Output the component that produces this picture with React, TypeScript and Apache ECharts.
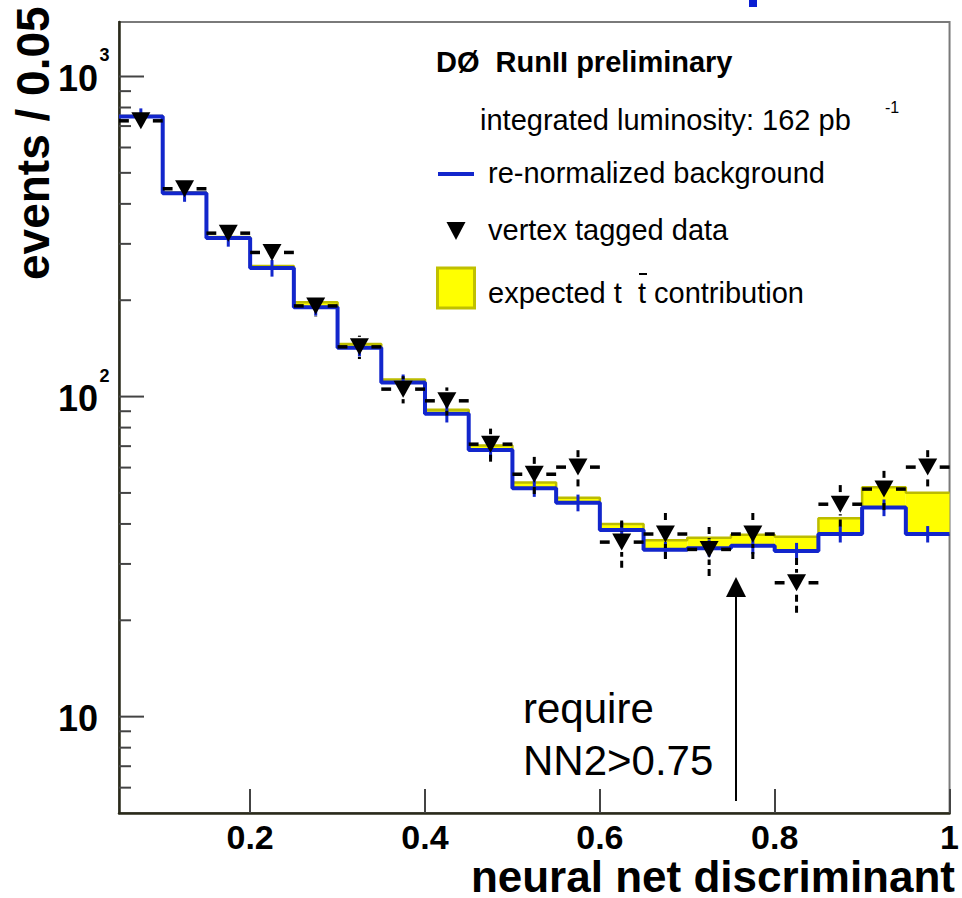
import React, { useEffect, useRef } from 'react';
import * as echarts from 'echarts';

// ---- data ----
const binEdges = [0.05, 0.1, 0.15, 0.2, 0.25, 0.3, 0.35, 0.4, 0.45, 0.5, 0.55, 0.6, 0.65, 0.7, 0.75, 0.8, 0.85, 0.9, 0.95, 1.0];
// re-normalized background
const background = [750, 432, 313, 252, 190, 142, 110.6, 88.3, 68.1, 51.7, 46.6, 38.3, 33.2, 33.6, 34.2, 32.9, 37.2, 45.0, 37.2];
const backgroundErr = [45, 26, 19, 15, 11, 8.5, 6.6, 5.3, 4.1, 3.1, 2.8, 2.3, 2.0, 2.0, 2.0, 2.0, 2.2, 2.7, 2.2];
// background + expected t tbar contribution (top of the yellow band)
const expectedTotal = [752, 434, 315, 256, 197, 146, 113, 90.9, 70.3, 53.9, 48.3, 40.0, 35.6, 36.2, 37.0, 36.5, 41.7, 52.1, 50.1];
// vertex tagged data
const dataCounts = [727, 446, 324, 282, 192, 143, 105.5, 97, 71, 57.2, 60.2, 35.1, 37.2, 33.3, 37.2, 26.2, 46.1, 51.4, 60.2];
const dataErr = [27, 21, 18, 17, 14, 12, 10.3, 9.8, 8.4, 7.6, 7.8, 5.9, 6.1, 5.8, 6.1, 5.1, 6.8, 7.2, 7.8];

const xTickValues = [0.2, 0.4, 0.6, 0.8, 1];
const yMajorTicks = [10, 100, 1000];
const yMajorExponents = ['', '2', '3'];
const yMinorTicks = [6, 7, 8, 9, 20, 30, 40, 50, 60, 70, 80, 90, 200, 300, 400, 500, 600, 700, 800, 900];

const X_MIN = 0.05;
const X_MAX = 1.0;
const Y_MIN = 5;
const Y_MAX = 1480;

const FONT = '"Liberation Sans", Arial, Helvetica, sans-serif';
const BLUE = '#1226cc';
const YELLOW = '#ffff00';
const YELLOW_EDGE = '#bcbc00';

const stepPoints = (vals: number[]) =>
  vals.map((v, i) => [binEdges[i], v]).concat([[binEdges[vals.length], vals[vals.length - 1]]]);

function txt(x: number, y: number, text: string, font: string, align = 'left', extra: any = {}) {
  return {
    type: 'text',
    x,
    y,
    ...extra,
    style: {
      text,
      font,
      fill: '#000',
      align,
      textAlign: align,
      verticalAlign: 'middle',
      textVerticalAlign: 'middle',
    },
  };
}

export default function App() {
  const ref = useRef<HTMLDivElement>(null);

  useEffect(() => {
    if (!ref.current) return;
    const chart = echarts.init(ref.current, undefined, { renderer: 'svg' });

    const fillItems = background.map((b, i) => [binEdges[i], binEdges[i + 1], b, expectedTotal[i]]);
    const bkgErrItems = background.map((b, i) => [(binEdges[i] + binEdges[i + 1]) / 2, b, backgroundErr[i]]);
    const dataItems = dataCounts.map((v, i) => [
      (binEdges[i] + binEdges[i + 1]) / 2,
      v,
      dataErr[i],
      binEdges[i],
      binEdges[i + 1],
    ]);
    const yTickItems: any[] = [
      ...yMajorTicks.map((v, i) => ({ v, major: true, exp: yMajorExponents[i] })),
      ...yMinorTicks.map((v) => ({ v, major: false, exp: '' })),
    ];

    const option: any = {
      animation: false,
      grid: {
        left: 119,
        right: 11,
        top: 22,
        bottom: 85,
        show: true,
        borderColor: '#7a7a7a',
        borderWidth: 2,
        backgroundColor: 'transparent',
      },
      xAxis: {
        type: 'value',
        min: X_MIN,
        max: X_MAX,
        splitLine: { show: false },
        axisLine: { show: true, onZero: false, lineStyle: { color: '#2a2a1a', width: 2.5 } },
        axisTick: {
          show: true,
          inside: true,
          length: 24,
          customValues: xTickValues,
          lineStyle: { color: '#444', width: 2 },
        },
        axisLabel: {
          show: true,
          customValues: xTickValues,
          showMaxLabel: true,
          showMinLabel: true,
          margin: 7,
          color: '#000',
          fontFamily: FONT,
          fontWeight: 'bold',
          fontSize: 34,
          formatter: (v: number) => (v === 1 ? '1' : String(Math.round(v * 10) / 10)),
        },
      },
      yAxis: {
        type: 'log',
        logBase: 10,
        min: Y_MIN,
        max: Y_MAX,
        splitLine: { show: false },
        axisLine: { show: true, lineStyle: { color: '#2a2a1a', width: 2.5 } },
        axisTick: { show: false },
        axisLabel: { show: false },
        minorTick: { show: false },
      },
      series: [
        {
          type: 'custom',
          name: 'expected t tbar contribution',
          z: 2,
          clip: true,
          data: fillItems,
          renderItem: (params: any, api: any) => {
            const p0 = api.coord([api.value(0), api.value(3)]);
            const p1 = api.coord([api.value(1), api.value(2)]);
            return {
              type: 'rect',
              shape: { x: p0[0], y: p0[1], width: p1[0] - p0[0], height: p1[1] - p0[1] },
              style: { fill: YELLOW },
            };
          },
        },
        {
          type: 'line',
          name: 'expected total',
          z: 3,
          step: 'end',
          symbol: 'none',
          showSymbol: false,
          data: stepPoints(expectedTotal),
          lineStyle: { color: YELLOW_EDGE, width: 2.5 },
        },
        {
          type: 'line',
          name: 're-normalized background',
          z: 4,
          step: 'end',
          symbol: 'none',
          showSymbol: false,
          data: stepPoints(background),
          lineStyle: { color: BLUE, width: 4 },
        },
        {
          type: 'custom',
          name: 'background errors',
          z: 5,
          data: bkgErrItems,
          renderItem: (params: any, api: any) => {
            const xc = api.value(0);
            const v = api.value(1);
            const e = api.value(2);
            const t = api.coord([xc, v + e]);
            const b = api.coord([xc, v - e]);
            return {
              type: 'line',
              shape: { x1: t[0], y1: t[1], x2: b[0], y2: b[1] },
              style: { stroke: BLUE, lineWidth: 3 },
            };
          },
        },
        {
          type: 'custom',
          name: 'vertex tagged data',
          z: 6,
          clip: false,
          data: dataItems,
          renderItem: (params: any, api: any) => {
            const xc = api.value(0);
            const v = api.value(1);
            const e = api.value(2);
            const x0 = api.value(3);
            const x1 = api.value(4);
            const c = api.coord([xc, v]);
            const t = api.coord([xc, v + e]);
            const b = api.coord([xc, v - e]);
            const l = api.coord([x0, v]);
            const r = api.coord([x1, v]);
            const gapH = 12;
            const gapV = 10;
            const children: any[] = [
              {
                type: 'line',
                shape: { x1: l[0], y1: c[1], x2: c[0] - gapH, y2: c[1] },
                style: { stroke: '#000', lineWidth: 3.5 },
              },
              {
                type: 'line',
                shape: { x1: r[0], y1: c[1], x2: c[0] + gapH, y2: c[1] },
                style: { stroke: '#000', lineWidth: 3.5 },
              },
            ];
            if (c[1] - gapV > t[1]) {
              children.push({
                type: 'line',
                shape: { x1: c[0], y1: t[1], x2: c[0], y2: c[1] - gapV },
                style: { stroke: '#000', lineWidth: 3, lineDash: [7, 4] },
              });
            }
            if (b[1] > c[1] + gapV) {
              children.push({
                type: 'line',
                shape: { x1: c[0], y1: b[1], x2: c[0], y2: c[1] + gapV },
                style: { stroke: '#000', lineWidth: 3, lineDash: [7, 4] },
              });
            }
            children.push({
              type: 'polygon',
              shape: {
                points: [
                  [c[0] - 9.5, c[1] - 8.5],
                  [c[0] + 9.5, c[1] - 8.5],
                  [c[0], c[1] + 8.5],
                ],
              },
              style: { fill: '#000' },
            });
            return { type: 'group', children };
          },
        },
        {
          type: 'custom',
          name: 'y ticks',
          z: 7,
          clip: false,
          silent: true,
          data: yTickItems.map((d) => [X_MIN, d.v]),
          renderItem: (params: any, api: any) => {
            const item = yTickItems[params.dataIndex];
            const p = api.coord([X_MIN, item.v]);
            const len = item.major ? 25 : 12;
            const children: any[] = [
              {
                type: 'line',
                shape: { x1: p[0], y1: p[1], x2: p[0] + len, y2: p[1] },
                style: { stroke: '#444', lineWidth: 2 },
              },
            ];
            if (item.major) {
              children.push({
                type: 'text',
                x: p[0] - 21,
                y: p[1] + 2,
                style: {
                  text: '10',
                  font: `bold 36px ${FONT}`,
                  fill: '#000',
                  align: 'right',
                  verticalAlign: 'middle',
                },
              });
              if (item.exp) {
                children.push({
                  type: 'text',
                  x: p[0] - 19.5,
                  y: p[1] - 21,
                  style: {
                    text: item.exp,
                    font: `bold 18px ${FONT}`,
                    fill: '#000',
                    align: 'left',
                    verticalAlign: 'middle',
                  },
                });
              }
            }
            return { type: 'group', children };
          },
        },
      ],
      graphic: [
        // fragment of slide title cut off at top
        { type: 'rect', shape: { x: 749, y: 0, width: 8, height: 7 }, style: { fill: '#0a1ed2' } },
        // axis titles
        txt(955, 876, 'neural net discriminant', `bold 44px ${FONT}`, 'right'),
        txt(33, 280, 'events / 0.05', `bold 46px ${FONT}`, 'left', { rotation: Math.PI / 2 }),
        // legend
        txt(436, 62, 'D\u00D8  RunII preliminary', `bold 29px ${FONT}`),
        txt(480, 120, 'integrated luminosity: 162 pb', `29px ${FONT}`),
        txt(885, 107, '-1', `16px ${FONT}`),
        { type: 'line', shape: { x1: 438, y1: 174, x2: 474, y2: 174 }, style: { stroke: BLUE, lineWidth: 4 } },
        txt(488, 173, 're-normalized background', `29px ${FONT}`),
        {
          type: 'polygon',
          shape: { points: [[446.5, 222], [465.5, 222], [456, 240]] },
          style: { fill: '#000' },
        },
        txt(488, 230, 'vertex tagged data', `29px ${FONT}`),
        {
          type: 'rect',
          shape: { x: 437.5, y: 268, width: 37, height: 40 },
          style: { fill: YELLOW, stroke: '#c0c000', lineWidth: 3 },
        },
        txt(488, 293, 'expected t  t contribution', `29px ${FONT}`),
        { type: 'rect', shape: { x: 639, y: 273, width: 8, height: 2 }, style: { fill: '#000' } },
        // cut annotation
        txt(523, 708, 'require', `42px ${FONT}`),
        txt(523, 760, 'NN2>0.75', `42px ${FONT}`),
        { type: 'line', shape: { x1: 736, y1: 801, x2: 736, y2: 595 }, style: { stroke: '#000', lineWidth: 2 } },
        {
          type: 'polygon',
          shape: { points: [[736, 577], [726, 597], [746, 597]] },
          style: { fill: '#000' },
        },
      ],
    };

    chart.setOption(option);
    return () => {
      chart.dispose();
    };
  }, []);

  return (
    <div
      ref={ref}
      style={{ position: 'fixed', left: 0, top: 0, width: 962, height: 898, background: '#fff' }}
    />
  );
}
